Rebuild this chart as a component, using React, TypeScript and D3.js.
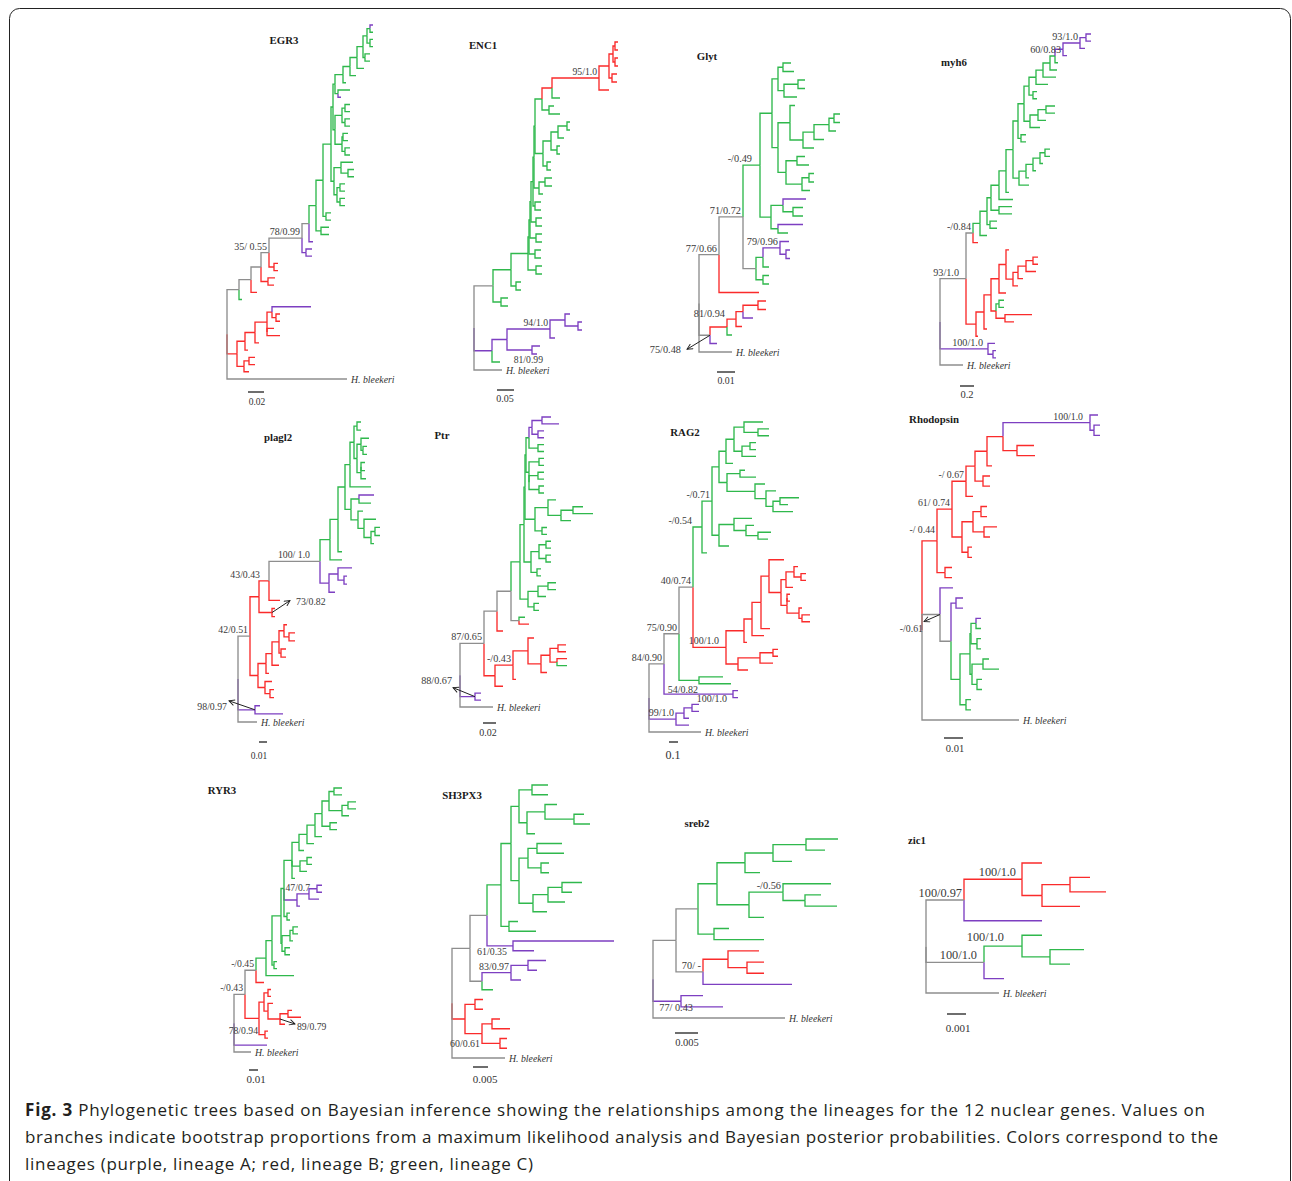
import React from 'react';
import * as d3 from 'd3';

// ---------- DATA ----------
// Trees in Newick form. Node name: colour code (g = lineage C, r = lineage B, p = lineage A, k = outgroup/unassigned),
// "#text" = support value (bootstrap / posterior), "|text" = tip label. Branch lengths in tree units;
// each tree's scale bar equals SCALE_UNITS[i] of those units.

const EGR3_TREE = (() => {
  const n438 = '(((p:3,g:3)g:3,(g:3,g:3)g:3)g:4,(g:5,g:5)g:2)g:6';
  const n420 = `(${n438},g:7)g:7`;
  const n400 = `(${n420},g:6)g:7`;
  const n378 = `(${n400},g:3)g:8`;
  const n355 = `(${n378},(g:12,p:3)g:3)g:2`;
  const mid = '(((g:5,g:5)g:3,(g:5,g:5)g:3)g:7,((g:5,g:5)g:1,(g:5,g:5)g:3)g:7)g:2';
  const s3 = `(${n355},${mid})g:2`;
  const s4 = '((g:12,(g:6,g:6)g:7)g:7,((g:5,g:5)g:3,(g:5,g:5)g:3)g:3)g:3';
  const s2 = `(${s3},${s4})g:8`;
  const s1 = `(${s2},(g:5,g:5)g:3)g:7`;
  const gc = `(${s1},(g:8,g:8)g:5)g:7`;
  const n280 = `(${gc},p:4)k:7`;
  const g = `(${n280},(p:6,p:6)p:4)k#78/0.99:33`;
  const e = `(${g},(r:4,r:4)r:5)k#35/ 0.55:8`;
  const d = `(${e},(r:7,r:6)r:7)k:10`;
  const c = `(${d},r:6)k:12`;
  const b = `(${c},g:3)k:12`;
  const r6 = '(p:39,(r:4,r:4)r:4)r:5';
  const r5 = `(${r6},(r:7,r:13)r:0)r:12`;
  const r4 = `(${r5},r:4)r:10`;
  const r2 = `(${r4},r:3)r:8`;
  const r1 = `(${r2},((r:6,r:6)r:5,r:5)r:7)r:10`;
  return `(${b},${r1},k|H. bleekeri:120)k`;
})();

const ENC1_TREE = (() => {
  const rb = '((r:3,r:3)r:2,(r:3,r:3)r:2)r:4';
  const ra = `(${rb},(r:5,r:5)r:3)r:10`;
  const rc = `(${ra},r:10)r#95/1.0:47`;
  const r = `(${rc},g:8)r:10`;
  const t = `(${r},(g:5,g:11)g:7)g:7`;
  const k2 = '((g:3,g:3)g:9,g:6)g:7';
  const k1 = `(${k2},(g:3,g:3)g:6)g:8`;
  const k = `(${k1},(g:4,g:4)g:4)g:8`;
  const p1 = `(${t},${k})g:1`;
  const q = '((g:7,g:7)g:6,g:4)g:5';
  const g8 = `(${p1},${q})g:1`;
  const g7 = `(${g8},(g:6,g:6)g:2)g:2`;
  const g6 = `(${g7},(g:6,g:6)g:5)g:1`;
  const g5 = `(${g6},(g:6,g:6)g:6)g:1`;
  const g4 = `(${g5},(g:6,g:6)g:6)g:1`;
  const g3 = `(${g4},(g:6,g:6)g:8)g:17`;
  const g2 = `(${g3},(g:5,g:5)g:5)g:18`;
  const g1 = `(${g2},(g:7,g:7)g:8)k:19`;
  const p5 = '(p:5,(p:4,p:4)p:13)p:15';
  const p3 = `(${p5},p:5)p#94/1.0:43`;
  const p2 = `(${p3},(p:8,p:5)p#81/0.99:25)p:15`;
  const p = `(${p2},g:8)p:18`;
  return `(${g1},${p},k|H. bleekeri:28)k`;
})();

const GLYT_TREE = (() => {
  const v2 = '((g:7,g:7)g:14,g:13)g:6';
  const v1 = `((g:8,g:11)g:5,${v2})g:6`;
  const w4 = '((g:6,g:6)g:5,g:7)g:15';
  const w3 = `(${w4},g:10)g:11`;
  const w2 = `(${w3},g:11)g:13`;
  const w1 = `(g:5,${w2})g:12`;
  const x1 = '((g:8,g:12)g:11,((g:5,g:5)g:7,g:8)g:16)g:8';
  const y = `(${w1},${x1})g:6`;
  const c1 = `(${v1},${y})g:12`;
  const c3 = '((p:23,(g:10,g:10)g:10)g:12,(p:25,g:10)g:7)g:11';
  const c = `(${c1},${c3})g#-/0.49:17`;
  const e = '((p:9,(p:4,p:4)p:6)p#79/0.96:17,g:6)g:7';
  const d = `(${e},(g:6,g:6)g:7)k:13`;
  const b = `(${c},${d})k#71/0.72:24`;
  const a = `(${b},r:40)k#77/0.66:20`;
  const r3 = '((r:8,r:8)r:15,p:10)r:7';
  const r2 = `(${r3},r:6)r:9`;
  const r1 = `(${r2},g:5)r#81/0.94:17`;
  const z = `(${r1},p:7)k#75/0.48:11`;
  return `(${a},${z},k|H. bleekeri:33)k`;
})();

const MYH6_TREE = (() => {
  const p2 = '((p:5,p:5)p:6,p:5)p#93/1.0:17';
  const p1 = `(${p2},p:4)p#60/0.83:8`;
  const gt = `(${p1},g:3)g:5`;
  const g11 = `(${gt},g:7)g:7`;
  const g10 = `(${g11},g:13)g:7`;
  const g9 = `(${g10},g:12)g:7`;
  const g8 = `(${g9},(g:4,g:4)g:4)g:5`;
  const l8 = '((g:9,g:9)g:8,g:8)g:8';
  const l7 = `(${l8},g:10)g:6`;
  const g7 = `(${g8},${l7})g:6`;
  const g6 = `(${g7},(g:5,g:5)g:3)g:5`;
  const l5 = '((g:5,g:5)g:5,g:3)g:7';
  const l4 = `(${l5},g:3)g:7`;
  const l3 = `(${l4},g:3)g:7`;
  const l2 = `(${l3},g:10)g:6`;
  const g5 = `(${g6},${l2})g:7`;
  const g4 = `(${g5},g:3)g:7`;
  const g3 = `(${g4},g:14)g:8`;
  const g2 = `(${g3},(g:13,g:13)g:8)g:4`;
  const g1 = `(${g2},(g:7,g:7)g:3)g:7`;
  const g = `(${g1},g:7)g:7`;
  const b = `(${g},r:5)k#-/0.84:7`;
  const rc9 = '((r:5,r:5)r:7,r:10)r:8';
  const rc8 = `(${rc9},r:5)r:5`;
  const rc7 = `(${rc8},r:5)r:7`;
  const rc6 = `(r:3,${rc7})r:7`;
  const rc3 = `(${rc6},r:7)r:8`;
  const rc4 = '((g:5,g:5)g:3,(r:27,r:9)r:9)r:5';
  const rc2 = `(${rc3},${rc4})r:7`;
  const rc1 = `(${rc2},r:3)r:8`;
  const rc = `(${rc1},r:2)r:10`;
  const a = `(${b},${rc})k#93/1.0:26`;
  const pu = '(p:7,(p:3,p:3)p:5)p#100/1.0:48';
  return `(${a},${pu},k|H. bleekeri:23)k`;
})();

const PLAGL2_TREE = (() => {
  const gr6 = '((g:8,(g:4,g:4)g:2)g:4,((g:4,g:4)g:0,g:5)g:4)g:3';
  const gr5 = `((g:4,g:4)g:3,${gr6})g:4`;
  const gr3 = `(${gr5},g:21)g:5`;
  const gr11 = '((g:5,g:5)g:4,g:3)g:7';
  const gr10 = `(g:12,${gr11})g:6`;
  const gr9 = `(g:5,${gr10})g:7`;
  const gr4 = `((p:15,g:12)g:8,${gr9})g:6`;
  const gr2 = `(${gr3},${gr4})g:7`;
  const gr1 = `(${gr2},g:4)g:8`;
  const gr = `(${gr1},g:12)g:10`;
  const pq = '((p:14,(p:3,p:3)p:6)p:9,p:6)p:9';
  const e = `(${gr},${pq})k#100/ 1.0:51`;
  const d = `(${e},r:11)r#43/0.43:10`;
  const b = `(${d},(r:3,r:3)r#73/0.82:13)r:9`;
  const c5 = '(r:3,(r:6,r:6)r:5)r:5';
  const c4 = `(${c5},(r:5,r:5)r:2)r:7`;
  const c3 = `(${c4},r:7)r:6`;
  const c1 = `(${c3},r:3)r:8`;
  const c2 = '(r:7,(r:4,r:4)r:5)r:7';
  const c = `(${c1},${c2})r:8`;
  const a = `(${b},${c})k#42/0.51:12`;
  return `(${a},(p:5,p:28)p#98/0.97:17,k|H. bleekeri:19)k`;
})();

const PTR_TREE = (() => {
  const pp = '((p:9,p:17)p:10,(p:6,p:6)p:6)p:3';
  const g6 = `(${pp},(g:6,g:6)g:9)g:3`;
  const g7 = '((g:5,g:5)g:10,((g:6,g:6)g:9,(g:5,g:5)g:10)g:0)g:3';
  const g5 = `(${g6},${g7})g:1`;
  const gx = '((g:8,((g:10,g:20)g:12,g:10)g:13)g:13,(g:5,g:5)g:7)g:10';
  const g4 = `(${g5},${gx})g:1`;
  const gm = '(((g:5,g:5)g:7,(g:5,g:5)g:7)g:8,(g:4,g:4)g:6)g:7';
  const g1 = `(${g4},${gm})g:4`;
  const g2 = '(((g:8,g:8)g:10,g:8)g:10,(g:5,g:5)g:6)g:8';
  const g = `(${g1},${g2})g:9`;
  const c = `(${g},(g:6,r:10)k:8)k:14`;
  const b = `(${c},r:6)k:13`;
  const r5 = '((r:8,r:8)r:8,(r:10,g:10)r:7)r:9';
  const r4 = `(${r5},r:6)r:13`;
  const r3 = `(r:6,${r4})r:15`;
  const r2 = `(${r3},r:3)r#-/0.43:18`;
  const r = `(${r2},r:8)r:11`;
  const a = `(${b},${r})k#87/0.65:24`;
  return `(${a},(p:6,p:6)p#88/0.67:15,k|H. bleekeri:33)k`;
})();

const RAG2_TREE = (() => {
  const g9 = '(g:19,(g:11,g:11)g:14)g:10';
  const g10 = '((g:6,g:6)g:8,g:14)g:8';
  const g8 = `(${g9},${g10})g:8`;
  const g6 = `(${g8},g:7)g:7`;
  const g13 = '((g:19,g:8)g:7,g:20)g:7';
  const g12 = `(g:10,${g13})g:11`;
  const g11 = `(g:10,${g12})g:28`;
  const g7 = `((g:5,g:16)g:13,${g11})g:8`;
  const g2 = `(${g6},${g7})g:7`;
  const g5 = '(g:8,(g:13,g:10)g:12)g:12';
  const g4 = `(g:18,${g5})g:15`;
  const g3 = `(${g4},g:10)g:7`;
  const g1 = `(${g2},${g3})g#-/0.71:10`;
  const g = `(${g1},g:5)g#-/0.54:9`;
  const r8 = '((r:4,(r:5,r:5)r:7)r:8,r:7)r:5';
  const r9 = '((r:3,r:3)r:0,(r:3,(r:8,r:8)r:3)r:12)r:6';
  const r7 = `(${r8},${r9})r:12`;
  const r6 = `(r:15,${r7})r:8`;
  const r5 = `(${r6},r:9)r:9`;
  const r4 = `(${r5},r:12)r:8`;
  const r1 = `(${r4},r:3)r:18`;
  const r2 = '(((r:5,r:5)r:13,r:13)r:22,r:10)r:12';
  const r = `(${r1},${r2})r#100/1.0:33`;
  const c = `(${g},${r})k#40/0.74:14`;
  const b = `(${c},(g:24,g:32)g#54/0.82:20)k#75/0.90:15`;
  const a = `(${b},(p:5,p:5)p#100/1.0:69)k#84/0.90:15`;
  const pb = '(((p:7,p:7)p:8,p:5)p:8,p:13)p#99/1.0:27';
  return `(${a},${pb},k|H. bleekeri:52)k`;
})();

const RHODOPSIN_TREE = (() => {
  const p = '(p:8,(p:6,p:6)p:4)p#100/1.0:87';
  const c3 = `(${p},(r:17,r:18)r:14)r:16`;
  const c2 = `(${c3},r:5)r:12`;
  const c1 = `(${c2},(r:7,r:7)r:8)r:9`;
  const c = `(${c1},r:7)r#-/ 0.67:14`;
  const d1 = '((r:6,r:6)r:8,(r:13,r:6)r:11)r:11';
  const d = `(${d1},(r:4,r:4)r:6)r:10`;
  const b = `(${c},${d})r#61/ 0.74:15`;
  const a = `(${b},(r:7,r:7)r:8)r#-/ 0.44:15`;
  const g2 = '((p:5,g:5)g:5,(g:4,g:4)g:6)g:1';
  const g3 = '((g:6,g:16)g:11,(g:5,g:5)g:5)g:2';
  const g = `((${g2},${g3})g:10,(g:5,g:5)g:6)g:9`;
  const f = `((p:7,p:7)p:5,${g})k:11`;
  const e = `(p:13,${f})k#-/0.61:18`;
  return `(${a},${e},k|H. bleekeri:97)k`;
})();

const RYR3_TREE = (() => {
  const g12 = '((g:8,g:8)g:6,g:7)g:13';
  const g11 = `((g:8,g:8)g:5,${g12})g:7`;
  const g10 = `(${g11},(g:7,g:7)g:8)g:7`;
  const g9 = `(${g10},g:7)g:8`;
  const g8 = `(${g9},g:7)g:8`;
  const g6 = `(${g8},g:5)g:7`;
  const g7 = '((g:5,g:5)g:7,g:7)g:8';
  const g5 = `(${g6},${g7},g:3)g:8`;
  const pp = '(((p:5,p:5)p:8,p:10)p:12,p:3)p#47/0.7:13';
  const g3 = `(${g5},${pp},(g:3,g:3)g:3)g:3`;
  const g4 = '(((g:5,g:5)g:3,g:3)g:8,(g:5,g:5)g:3)g:1';
  const g2 = `(${g3},${g4})g:9`;
  const g1 = `(${g2},(g:3,g:3)g:2)g:6`;
  const g = `(${g1},g:28)g:10`;
  const b = `(${g},r:8)k#-/0.45:11`;
  const r3 = '((r:4,r:13)r:8,r:5)r#89/0.79:12';
  const r2 = `(r:5,${r3})r:4`;
  const r1 = `((r:3,r:3)r:4,${r2})r:5`;
  const r = `(${r1},(r:3,r:3)r:6)r#78/0.94:14`;
  const a = `(${b},${r})k#-/0.43:11`;
  return `(${a},p:33,k|H. bleekeri:17)k`;
})();

const SH3PX3_TREE = (() => {
  const g5 = '(g:12,(g:10,g:16)g:29)g:18';
  const g4 = `(${g5},g:8)g:8`;
  const g2 = `((g:16,g:16)g:13,${g4})g:8`;
  const g6 = '((g:25,g:27)g:9,(g:8,g:8)g:13)g:9';
  const g7 = '(((g:20,g:10)g:14,g:17)g:15,g:14)g:14';
  const g3 = `(${g6},${g7})g:8`;
  const g1 = `(${g2},${g3})g:10`;
  const g = `(${g1},(g:9,g:27)g:8)g:14`;
  const b = `(${g},(p:101,p:21)p#61/0.35:26)k:17`;
  const c = '(((p:18,p:9)p:17,p:10)p#83/0.97:29,g:11)k:12';
  const a = `(${b},${c})k:18`;
  const r = '((r:8,r:8)r:10,((r:8,r:18)r:10,(r:7,r:7)r:18)r#60/0.61:17)r:13';
  return `(${a},${r},k|H. bleekeri:53)k`;
})();

const SREB2_TREE = (() => {
  const g3 = '((g:32,g:19)g:33,g:19)g:28';
  const g1 = `(${g3},g:15)g:28`;
  const g4 = '(g:48,(g:16,g:32)g:22)g#-/0.56:34';
  const g2 = `(${g4},g:15)g:32`;
  const g = `(${g1},${g2})g:19`;
  const b = `(${g},(g:15,g:50)g:16)k:22`;
  const c = '((r:31,(r:17,r:17)r:19)r:25,p:89)k#70/ -:27';
  const a = `(${b},${c})k:23`;
  return `(${a},(p:22,p:42)p#77/ 0.43:28,k|H. bleekeri:132)k`;
})();

const ZIC1_TREE = (() => {
  const a = '((r:20,((r:20,r:36)r:28,r:38)r:20)r#100/1.0:58,p:78)k#100/0.97:38';
  const b = '((g:20,(g:34,g:20)g:28)g#100/1.0:38,p:20)k#100/1.0:58';
  return `(${a},${b},k|H. bleekeri:73)k`;
})();

const GENES = ['EGR3', 'ENC1', 'Glyt', 'myh6', 'plagl2', 'Ptr', 'RAG2', 'Rhodopsin', 'RYR3', 'SH3PX3', 'sreb2', 'zic1'];
const TREES = [EGR3_TREE, ENC1_TREE, GLYT_TREE, MYH6_TREE, PLAGL2_TREE, PTR_TREE, RAG2_TREE, RHODOPSIN_TREE, RYR3_TREE, SH3PX3_TREE, SREB2_TREE, ZIC1_TREE];
const SCALE_LABELS = ['0.02', '0.05', '0.01', '0.2', '0.01', '0.02', '0.1', '0.01', '0.01', '0.005', '0.005', '0.001'];
const SCALE_UNITS = [16, 17, 18, 14, 8, 13, 9, 19, 9, 15, 23, 19];

const CAPTION_LINES = [
  'Phylogenetic trees based on Bayesian inference showing the relationships among the lineages for the 12 nuclear genes. Values on',
  'branches indicate bootstrap proportions from a maximum likelihood analysis and Bayesian posterior probabilities. Colors correspond to the',
  'lineages (purple, lineage A; red, lineage B; green, lineage C)',
];

// ---------- LAYOUT / STYLE ----------
const COLORS: Record<string, string> = { g: '#2fb84c', r: '#fa2b2b', p: '#7d3fc1', k: '#8e8e8e' };

type Panel = {
  rootX: number; top: number; bottom: number;
  title: [number, number]; bar: [number, number]; barLabel: [number, number];
  fs: number; sfs: number;
};
const PANELS: Panel[] = [
  { rootX: 227, top: 25, bottom: 379, title: [284, 44], bar: [248, 392], barLabel: [257, 405], fs: 10, sfs: 9.5 },
  { rootX: 474, top: 42, bottom: 370, title: [483, 49], bar: [497, 390], barLabel: [505, 402], fs: 9.7, sfs: 10 },
  { rootX: 699, top: 63, bottom: 352, title: [707, 60], bar: [717, 372], barLabel: [726, 384], fs: 10.3, sfs: 9.8 },
  { rootX: 940, top: 34, bottom: 365, title: [954, 66], bar: [960, 386], barLabel: [967, 398], fs: 10.2, sfs: 10.5 },
  { rootX: 238, top: 422, bottom: 722, title: [278, 441], bar: [259, 742], barLabel: [259, 759], fs: 9.8, sfs: 9.5 },
  { rootX: 460, top: 417, bottom: 707, title: [442, 439], bar: [483, 723], barLabel: [488, 736], fs: 10.2, sfs: 10 },
  { rootX: 649, top: 422, bottom: 732, title: [685, 436], bar: [669, 742], barLabel: [673, 759], fs: 10, sfs: 12 },
  { rootX: 922, top: 415, bottom: 720, title: [934, 423], bar: [944, 738], barLabel: [955, 752], fs: 9.8, sfs: 10.5 },
  { rootX: 234, top: 788, bottom: 1052, title: [222, 794], bar: [249, 1070], barLabel: [256, 1083], fs: 9.7, sfs: 11 },
  { rootX: 452, top: 785, bottom: 1058, title: [462, 799], bar: [473, 1067], barLabel: [485, 1083], fs: 9.9, sfs: 11 },
  { rootX: 653, top: 839, bottom: 1018, title: [697, 827], bar: [675, 1033], barLabel: [687, 1046], fs: 10.3, sfs: 10.5 },
  { rootX: 926, top: 863, bottom: 993, title: [917, 844], bar: [947, 1014], barLabel: [958, 1032], fs: 12.3, sfs: 11 },
];

type Nudge = { dx?: number; dy?: number; anchor?: 'start' | 'end'; arrow?: [number, number] };
const LABEL_NUDGES: Record<string, Nudge> = {
  'ENC1|81/0.99|0': { dx: 11, dy: 13 },
  'Glyt|-/0.49|0': { dx: -8 },
  'Glyt|81/0.94|0': { dy: -10 },
  'Glyt|75/0.48|0': { dx: -29, dy: 18, arrow: [-23, 14] },
  'myh6|93/1.0|0': { dx: -7 },
  'myh6|93/1.0|1': { dy: -3 },
  'myh6|60/0.83|0': { dy: 4 },
  'myh6|100/1.0|0': { dx: -5 },
  'plagl2|43/0.43|0': { dx: -9 },
  'plagl2|100/ 1.0|0': { dx: -10 },
  'plagl2|73/0.82|0': { anchor: 'start', dx: 24, dy: -8, arrow: [18, -12] },
  'plagl2|98/0.97|0': { dx: -28, dy: 0, arrow: [-26, -9] },
  'Ptr|88/0.67|0': { dx: -23, dy: -13, arrow: [-22, -9] },
  'RAG2|-/0.54|0': { dx: -10 },
  'RAG2|100/1.0|0': { dx: -7 },
  'RAG2|54/0.82|0': { dx: -1, dy: 13 },
  'RAG2|100/1.0|1': { dx: -6, dy: 8 },
  'Rhodopsin|-/ 0.44|0': { dy: -8 },
  'Rhodopsin|100/1.0|0': { dx: -7 },
  'Rhodopsin|-/0.61|0': { dx: -17, dy: 17, arrow: [-16, 7] },
  'RYR3|78/0.94|0': { dx: -1, dy: 16 },
  'RYR3|47/0.7|0': { dx: 13, dy: -9 },
  'RYR3|89/0.79|0': { anchor: 'start', dx: 17, dy: 11, arrow: [15, 5] },
  'SH3PX3|61/0.35|0': { dx: -6, dy: 9 },
  'SH3PX3|60/0.61|0': { dy: 13 },
  'sreb2|77/ 0.43|0': { dx: 12, dy: 10 },
  'zic1|100/1.0|0': { dx: -6 },
  'zic1|100/1.0|1': { dx: -7 },
  'zic1|100/1.0|2': { dx: -18, dy: -5 },
};

// ---------- PARSER ----------
type TNode = { color: string; label?: string; tip?: string; len: number; children: TNode[] };

function parseNewick(src: string): TNode {
  const s = src;
  let i = 0;
  function node(): TNode {
    const children: TNode[] = [];
    if (s[i] === '(') {
      i++;
      children.push(node());
      while (s[i] === ',') { i++; children.push(node()); }
      i++; // ')'
    }
    let name = '';
    while (i < s.length && s[i] !== ':' && s[i] !== ',' && s[i] !== ')') name += s[i++];
    let len = 0;
    if (s[i] === ':') {
      i++;
      let num = '';
      while (i < s.length && /[0-9.]/.test(s[i])) num += s[i++];
      len = +num;
    }
    const color = name[0] || 'k';
    let label: string | undefined;
    let tip: string | undefined;
    const h = name.indexOf('#');
    if (h >= 0) label = name.slice(h + 1);
    const b = name.indexOf('|');
    if (b >= 0) tip = name.slice(b + 1);
    return { color, label, tip, len, children };
  }
  return node();
}

const SERIF = "'Liberation Serif','Times New Roman',Times,serif";

function Tree({ idx }: { idx: number }) {
  const gene = GENES[idx];
  const P = PANELS[idx];
  const root = d3.hierarchy<TNode>(parseNewick(TREES[idx]), (d) => (d.children.length ? d.children : null));
  const depth = new Map<d3.HierarchyNode<TNode>, number>();
  root.eachBefore((n) => depth.set(n, n.parent ? depth.get(n.parent)! + n.data.len : 0));
  const leaves = root.leaves();
  const maxDepth = d3.max(leaves, (l) => depth.get(l)!)!;
  const x = d3.scaleLinear().domain([0, maxDepth]).range([P.rootX, P.rootX + maxDepth]);
  const tipY = d3.scaleLinear().domain([0, leaves.length - 1]).range([P.top, P.bottom]);
  const ypos = new Map<d3.HierarchyNode<TNode>, number>();
  leaves.forEach((l, i) => ypos.set(l, tipY(i)));
  root.eachAfter((n) => {
    if (n.children) ypos.set(n, (ypos.get(n.children[0])! + ypos.get(n.children[n.children.length - 1])!) / 2);
  });
  const X = (n: d3.HierarchyNode<TNode>) => x(depth.get(n)!);
  const Y = (n: d3.HierarchyNode<TNode>) => ypos.get(n)!;

  const links = root.descendants().filter((n) => n.parent);
  const coloured = links.filter((n) => n.data.color !== 'k');
  const grey = links.filter((n) => n.data.color === 'k');

  const labels: { n: d3.HierarchyNode<TNode>; key: string }[] = [];
  const counts: Record<string, number> = {};
  root.eachBefore((n) => {
    if (n.data.label) {
      const t = n.data.label;
      const c = counts[t] || 0;
      counts[t] = c + 1;
      labels.push({ n, key: `${gene}|${t}|${c}` });
    }
  });

  const barLen = x(SCALE_UNITS[idx]) - x(0);

  return (
    <g>
      <text x={P.title[0]} y={P.title[1]} textAnchor="middle" fontFamily={SERIF} fontSize={10.8} fontWeight="bold" fill="#1a1a1a">
        {gene}
      </text>
      {[...coloured, ...grey].map((n, i) => (
        <path
          key={i}
          d={`M${X(n.parent!)},${Y(n.parent!)}V${Y(n)}H${X(n)}`}
          fill="none"
          stroke={COLORS[n.data.color]}
          strokeWidth={1.35}
        />
      ))}
      {leaves.filter((l) => l.data.tip).map((l, i) => (
        <text key={'t' + i} x={X(l) + 4} y={Y(l) + 3.5} fontFamily={SERIF} fontStyle="italic" fontSize={9.8} fill="#333">
          {l.data.tip}
        </text>
      ))}
      {labels.map(({ n, key }, i) => {
        const nd = LABEL_NUDGES[key] || {};
        const dx = nd.dx ?? -2;
        const dy = nd.dy ?? -3;
        const nx = X(n);
        const ny = Y(n);
        return (
          <g key={'l' + i}>
            {nd.arrow && (
              <line x1={nx} y1={ny} x2={nx + nd.arrow[0]} y2={ny + nd.arrow[1]} stroke="#222" strokeWidth={1} markerEnd="url(#arrowhead)" />
            )}
            <text x={nx + dx} y={ny + dy} textAnchor={nd.anchor ?? 'end'} fontFamily={SERIF} fontSize={P.fs} fill="#3a3a3a">
              {n.data.label}
            </text>
          </g>
        );
      })}
      <line x1={P.bar[0]} x2={P.bar[0] + barLen} y1={P.bar[1]} y2={P.bar[1]} stroke="#6e6e6e" strokeWidth={2} />
      <text x={P.barLabel[0]} y={P.barLabel[1]} textAnchor="middle" fontFamily={SERIF} fontSize={P.sfs} fill="#333">
        {SCALE_LABELS[idx]}
      </text>
    </g>
  );
}

export default function App() {
  const capFont = "'Open Sans','Noto Sans',sans-serif";
  return (
    <div style={{ position: 'absolute', left: 0, top: 0, width: 1292, height: 1181, background: '#fff' }}>
      <svg width={1292} height={1181} viewBox="0 0 1292 1181" style={{ display: 'block' }}>
        <defs>
          <marker id="arrowhead" viewBox="0 0 10 10" refX="9" refY="5" markerWidth="7" markerHeight="7" orient="auto">
            <path d="M1,1 L9,5 L1,9" fill="none" stroke="#222" strokeWidth={1.3} />
          </marker>
        </defs>
        <rect x={9.5} y={8.5} width={1281} height={1200} rx={10} fill="#fff" stroke="#222" strokeWidth={1} />
        {GENES.map((g, i) => (
          <Tree key={g} idx={i} />
        ))}
        <text x={25} y={1116} fontFamily={capFont} fontSize={17} fill="#231f20" textLength={1180} lengthAdjust="spacing">
          <tspan fontWeight="bold">Fig. 3</tspan> {CAPTION_LINES[0]}
        </text>
        <text x={25} y={1143} fontFamily={capFont} fontSize={17} fill="#231f20" textLength={1193} lengthAdjust="spacing">
          {CAPTION_LINES[1]}
        </text>
        <text x={25} y={1170} fontFamily={capFont} fontSize={17} fill="#231f20" textLength={508} lengthAdjust="spacing">
          {CAPTION_LINES[2]}
        </text>
      </svg>
    </div>
  );
}
